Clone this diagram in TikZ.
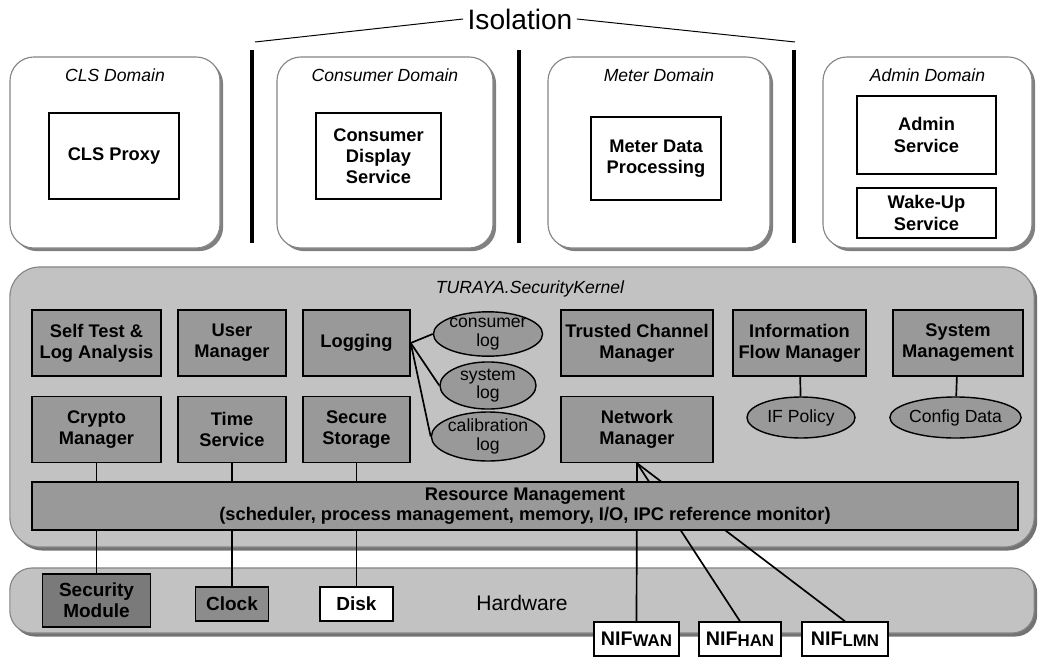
\documentclass[tikz,border=0pt]{standalone}
\usepackage{fontspec}
\setmainfont{Liberation Sans}
\usepackage{tikz}
\usetikzlibrary{shapes,shadows,positioning}
\pgfdeclarelayer{bg}
\pgfdeclarelayer{edges}
\pgfsetlayers{bg,edges,main}
\definecolor{kernelgray}{HTML}{C2C2C2}
\definecolor{boxgray}{HTML}{999999}
\definecolor{rimgray}{HTML}{858585}
\definecolor{modgray}{HTML}{7A7A7A}
\definecolor{clockgray}{HTML}{8C8C8C}
\newcommand{\boxfont}{\fontsize{13}{15}\selectfont\bfseries}
\newcommand{\nifsub}[1]{\raisebox{-0.6pt}{\fontsize{12}{12}\selectfont #1}}

\begin{document}
\begin{tikzpicture}[x=0.025cm, y=-0.025cm,
    dombox/.style={rectangle, rounded corners=0.6cm, draw=rimgray, line width=0.8pt,
      fill=white, minimum height=4.775cm,
      drop shadow={shadow xshift=2.2pt, shadow yshift=-2.2pt, fill=black!50, opacity=1}},
    domlabel/.style={font=\fontsize{12.5}{14}\selectfont\itshape, inner sep=1pt},
    appbox/.style={rectangle, draw=black, line width=1pt, fill=white, align=center,
      font=\boxfont, inner sep=2pt},
    kernelbg/.style={rectangle, rounded corners=0.75cm, draw=rimgray, line width=0.8pt,
      fill=kernelgray,
      drop shadow={shadow xshift=2.2pt, shadow yshift=-2.5pt, fill=black!55, opacity=1}},
    kernbox/.style={rectangle, draw=black, line width=1pt, fill=boxgray, align=center,
      font=\boxfont, inner sep=2pt, minimum height=1.65cm},
    logell/.style={ellipse, draw=black, line width=1pt, fill=boxgray, align=center,
      inner sep=0pt, font=\fontsize{12.5}{13}\selectfont},
    hwbox/.style={rectangle, draw=black, line width=1pt, align=center,
      font=\fontsize{13.5}{15}\selectfont\bfseries, inner sep=2pt},
    nifbox/.style={hwbox, fill=white, minimum height=0.85cm,
      font=\fontsize{14}{15}\selectfont\bfseries},
    link/.style={draw=black, line width=1.2pt},
    isobar/.style={draw=black, line width=2.8pt},
    isoline/.style={draw=black, line width=0.7pt}]

  \useasboundingbox (0,0) rectangle (1038,657);

  % Domains
  \node[dombox, minimum width=5.25cm]  (clsdom) at (115,152.5) {};
  \node[dombox, minimum width=5.4cm]   (condom) at (385,152.5) {};
  \node[dombox, minimum width=5.55cm]  (metdom) at (659,152.5) {};
  \node[dombox, minimum width=5.225cm] (admdom) at (927.5,152.5) {};

  \node[domlabel, below=0.26cm of clsdom.north] (clslbl) {CLS Domain};
  \node[domlabel, below=0.26cm of condom.north] (conlbl) {Consumer Domain};
  \node[domlabel, below=0.26cm of metdom.north] (metlbl) {Meter Domain};
  \node[domlabel, below=0.26cm of admdom.north] (admlbl) {Admin Domain};

  \node[appbox, minimum width=3.25cm, minimum height=2.15cm]   (clsproxy) at (114,156) {CLS Proxy};
  \node[appbox, minimum width=3.125cm, minimum height=2.15cm]  (consdisp) at (378.5,156) {Consumer\\Display\\Service};
  \node[appbox, minimum width=3.25cm, minimum height=2.075cm]  (meterdp) at (656,158.5) {Meter Data\\Processing};
  \node[appbox, minimum width=3.475cm, minimum height=1.95cm]  (adminsrv) at (926.5,135) {Admin\\Service};
  \node[appbox, minimum width=3.475cm, minimum height=1.25cm]  (wakeup) at (926.5,213) {Wake-Up\\Service};

  % Isolation
  \node[font=\fontsize{20}{22}\selectfont, inner sep=3pt] (iso) at (520,19) {Isolation};
  \coordinate (isoL) at (255,42);
  \coordinate (isoR) at (795,42);
  \draw[isoline] (iso.west) -- (isoL);
  \draw[isoline] (iso.east) -- (isoR);
  \foreach \x in {252,519,794}
    \draw[isobar] (\x,50) -- (\x,243);

  % Kernel and hardware layers
  \begin{pgfonlayer}{bg}
    \node[kernelbg, minimum width=25.6cm, minimum height=7cm] (kernel) at (522,407) {};
    \node[kernelbg, rounded corners=0.55cm, minimum width=25.6cm, minimum height=1.625cm] (hw) at (522,600.5) {};
  \end{pgfonlayer}
  \node[domlabel] (kernlbl) at (530,289) {TURAYA.SecurityKernel};
  \node[font=\fontsize{15}{17}\selectfont] (hwlbl) at (522,603) {Hardware};

  \node[kernbox, minimum width=3.225cm] (selftest) at (96.5,343) {Self Test \&\\Log Analysis};
  \node[kernbox, minimum width=2.7cm]   (usermgr)  at (232,343)  {User\\Manager};
  \node[kernbox, minimum width=2.675cm] (logging)  at (356.5,343) {Logging};
  \node[kernbox, minimum width=3.225cm] (crypto)   at (96.5,429.5) {Crypto\\Manager};
  \node[kernbox, minimum width=2.7cm]   (timesrv)  at (232,429.5) {Time\\Service};
  \node[kernbox, minimum width=2.675cm] (secstor)  at (356.5,429.5) {Secure\\Storage};
  \node[kernbox, minimum width=3.8cm]   (trustch)  at (637,343) {Trusted Channel\\Manager};
  \node[kernbox, minimum width=3.325cm] (ifmgr)    at (799.5,343) {Information\\Flow Manager};
  \node[kernbox, minimum width=3.25cm]  (sysmgmt)  at (958,343) {System\\Management};
  \node[kernbox, minimum width=3.8cm]   (netmgr)   at (637,429.5) {Network\\Manager};

  \node[logell, minimum width=2.4cm, minimum height=1.075cm] (conslog) at (488,334) {consumer\\log};
  \node[logell, minimum width=2.4cm, minimum height=1.1cm]   (syslog)  at (488,385.5) {system\\log};
  \node[logell, minimum width=2.4cm, minimum height=1.1cm]   (callog)  at (488,436.5) {calibration\\log};
  \node[logell, minimum width=2.7cm, minimum height=1.025cm] (ifpol)   at (801,417.5) {IF Policy};
  \node[logell, minimum width=2.725cm, minimum height=1.025cm] (cfgdata) at (955.5,417.5) {Config Data};

  \node[kernbox, minimum width=24.65cm, minimum height=1.2cm, font=\fontsize{13}{14}\selectfont\bfseries]
    (resmgmt) at (525,506) {Resource Management\\(scheduler, process management, memory, I/O, IPC reference monitor)};

  % Hardware
  \node[hwbox, fill=modgray, minimum width=2.7cm, minimum height=1.325cm] (secmod) at (96.5,600.5) {Security\\Module};
  \node[hwbox, fill=clockgray, minimum width=1.825cm, minimum height=0.85cm] (clock) at (232,604) {Clock};
  \node[hwbox, fill=white, minimum width=1.825cm, minimum height=0.85cm] (disk) at (356.5,604) {Disk};
  \node[nifbox, minimum width=2.125cm] (nifwan) at (636.5,639) {NIF\nifsub{WAN}};
  \node[nifbox, minimum width=2.05cm]  (nifhan) at (740,639) {NIF\nifsub{HAN}};
  \node[nifbox, minimum width=2.15cm]  (niflmn) at (845,639) {NIF\nifsub{LMN}};

  % Connectors
  \draw[link] (logging.east) -- (conslog.west);
  \draw[link] (logging.east) -- (syslog.west);
  \draw[link] (logging.east) -- (callog.west);
  \draw[link] (ifmgr) -- (ifpol);
  \draw[link] (sysmgmt) -- (cfgdata);

  \begin{pgfonlayer}{edges}
    \draw[link] (crypto) -- (secmod);
    \draw[link] (timesrv) -- (clock);
    \draw[link] (secstor) -- (disk);
    \draw[link] (netmgr.south) -- (nifwan.north);
    \draw[link] (netmgr.south) -- (nifhan.north);
    \draw[link] (netmgr.south) -- (niflmn.north);
  \end{pgfonlayer}

\end{tikzpicture}
\end{document}
